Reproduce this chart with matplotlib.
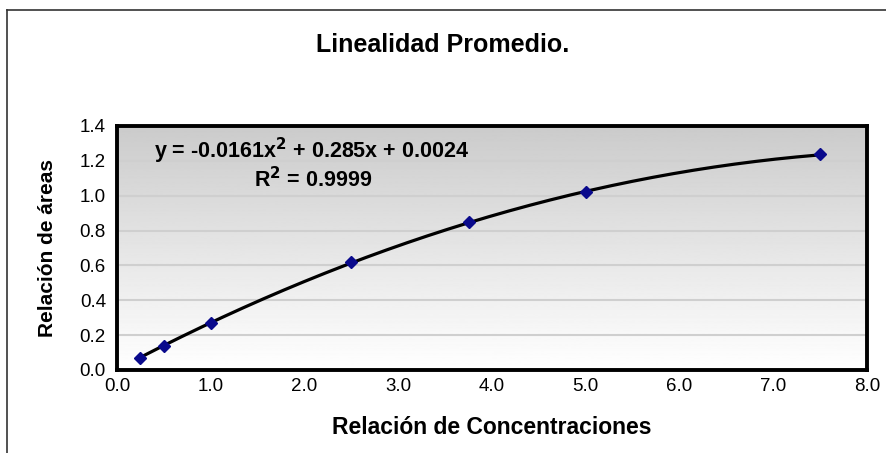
import numpy as np
import matplotlib.pyplot as plt
from matplotlib.lines import Line2D

plt.rcParams['font.family'] = ['Liberation Sans', 'DejaVu Sans']

# Promedio de linealidad: relación de concentraciones vs relación de áreas
conc = [0.25, 0.5, 1.0, 2.5, 3.75, 5.0, 7.5]
areas = [0.07, 0.14, 0.27, 0.62, 0.85, 1.02, 1.24]

# coeficientes de la línea de tendencia polinómica (orden 2)
coef = [-0.0161, 0.285, 0.0024]
r2 = 0.9999

x_ticks = np.arange(0, 8.01, 1.0)
y_ticks = np.arange(0, 1.41, 0.2)

fig = plt.figure(figsize=(8.86, 4.53), dpi=100)
ax = fig.add_axes([117 / 886, 1 - 370 / 453, 750 / 886, 244 / 453])

ax.set_xlim(0, 8)
ax.set_ylim(0, 1.4)

# fondo degradado: gris arriba, blanco abajo
grad = np.linspace(1, 0, 256).reshape(-1, 1)
ax.imshow(grad, cmap='gray', vmin=-3.9, vmax=1.0, origin='lower',
          extent=[0, 8, 0, 1.4], aspect='auto', zorder=0)

for yv in y_ticks[1:-1]:
    ax.axhline(yv, color='#cfcfcf', lw=1.5, zorder=1)

xs = np.linspace(min(conc), max(conc), 200)
ax.plot(xs, np.polyval(coef, xs), color='black', lw=2.3, zorder=3)
ax.plot(conc, areas, linestyle='none', marker='D', ms=6.5,
        color='#0a0a8c', markeredgecolor='#0a0a8c', zorder=4)

ax.text(2.07, 1.255, 'y = %.4fx$^\\mathbf{2}$ + %.3fx + %.4f' % tuple(coef),
        ha='center', va='center', fontsize=15.5, fontweight='bold')
ax.text(2.09, 1.095, 'R$^\\mathbf{2}$ = %.4f' % r2,
        ha='center', va='center', fontsize=15.5, fontweight='bold')

ax.set_xticks(x_ticks)
ax.set_yticks(y_ticks)
ax.set_xticklabels(['%.1f' % v for v in x_ticks])
ax.set_yticklabels(['%.1f' % v for v in y_ticks])
ax.tick_params(length=0, labelsize=13.5)
ax.tick_params(axis='x', pad=6)
ax.tick_params(axis='y', pad=8)

for s in ax.spines.values():
    s.set_linewidth(2.8)
    s.set_color('black')

ax.set_xlabel('Relación de Concentraciones', fontsize=16.5, fontweight='bold',
              labelpad=15)
ax.set_ylabel('Relación de áreas', fontsize=15, fontweight='bold',
              labelpad=16)

fig.text(0.5, 1 - 45 / 453, 'Linealidad Promedio.', ha='center', va='center',
         fontsize=18, fontweight='bold')

# borde exterior del área del gráfico
fig.add_artist(Line2D([7 / 886, 7 / 886], [0, 1 - 10 / 453],
                      color='#333333', lw=1.2))
fig.add_artist(Line2D([7 / 886, 1], [1 - 10 / 453, 1 - 10 / 453],
                      color='#333333', lw=1.2))

fig.savefig('out.png', dpi=100)
